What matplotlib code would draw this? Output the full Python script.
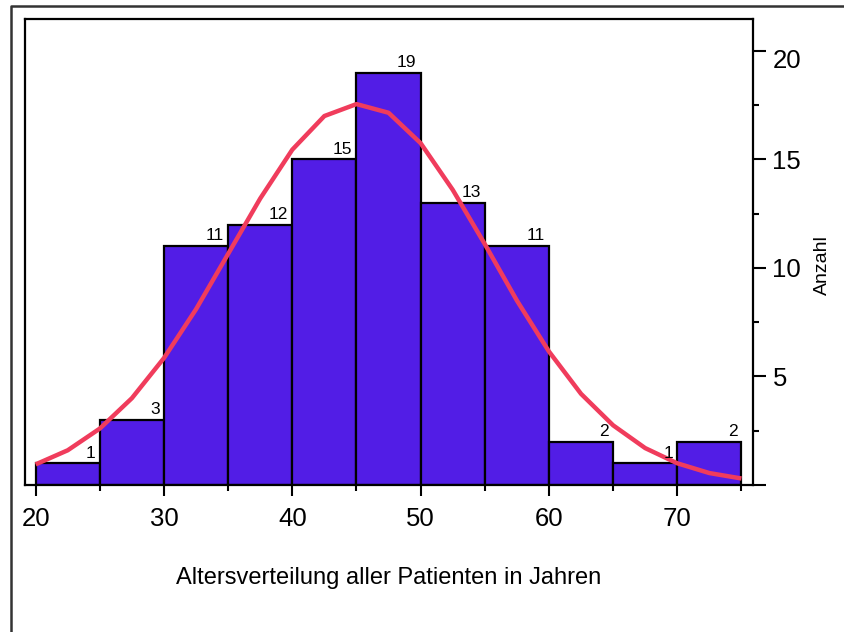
import matplotlib.pyplot as plt
from matplotlib.lines import Line2D
from matplotlib.ticker import MultipleLocator
import matplotlib.transforms as mtransforms

plt.rcParams['font.family'] = ['Liberation Sans', 'DejaVu Sans']

# Age classes (left edges, width 5 years) and patient counts
bin_left = [20, 25, 30, 35, 40, 45, 50, 55, 60, 65, 70]
counts = [1, 3, 11, 12, 15, 19, 13, 11, 2, 1, 2]
bin_width = 5

# Fitted normal curve, sampled every 2.5 years
curve_x = [20, 22.5, 25, 27.5, 30, 32.5, 35, 37.5, 40, 42.5, 45, 47.5,
           50, 52.5, 55, 57.5, 60, 62.5, 65, 67.5, 70, 72.5, 75]
curve_y = [0.95, 1.6, 2.6, 4.0, 5.85, 8.1, 10.65, 13.2, 15.45, 17.0, 17.55, 17.15,
           15.75, 13.6, 11.1, 8.5, 6.15, 4.2, 2.75, 1.7, 1.0, 0.55, 0.3]

x_ticks = [20, 30, 40, 50, 60, 70]
y_ticks = [5, 10, 15, 20]

fig = plt.figure(figsize=(8.44, 6.32), dpi=100)
ax = fig.add_axes([25 / 844, 1 - 485 / 632, 728 / 844, 466 / 632])

ax.bar(bin_left, counts, width=bin_width, align='edge', color='#521de6',
       edgecolor='black', linewidth=1.6, zorder=2)
ax.plot(curve_x, curve_y, color='#f03c5c', linewidth=3.2, zorder=3,
        solid_capstyle='butt')

for x0, n in zip(bin_left, counts):
    ax.annotate(str(n), (x0 + bin_width, n), xytext=(-3, 2),
                textcoords='offset points', ha='right', va='bottom', fontsize=12.5)

ax.set_xlim(19.17, 75.9)
ax.set_ylim(0, 21.47)

ax.set_xticks(x_ticks)
ax.xaxis.set_minor_locator(MultipleLocator(5))
ax.yaxis.tick_right()
ax.set_yticks([0] + y_ticks)
ax.set_yticklabels([''] + [str(v) for v in y_ticks])
ax.yaxis.set_minor_locator(MultipleLocator(2.5))

ax.tick_params(axis='x', which='major', direction='out', length=8, width=1.5,
               labelsize=18.5, pad=8)
ax.tick_params(axis='x', which='minor', direction='out', length=4, width=1.5)
ax.tick_params(axis='y', which='major', direction='out', length=9, width=1.5,
               labelsize=18.5, pad=5, left=False, right=True)
ax.tick_params(axis='y', which='minor', direction='out', length=4, width=1.5,
               left=False, right=True)

# keep the top label clear of the frame
top_label = ax.get_yticklabels()[-1]
top_label.set_transform(top_label.get_transform() +
                        mtransforms.ScaledTranslation(0, -8 / 100, fig.dpi_scale_trans))

for side in ax.spines.values():
    side.set_linewidth(1.6)

ax.set_xlabel('Altersverteilung aller Patienten in Jahren', fontsize=17)
ax.xaxis.set_label_coords(0.5, -0.1996)
ax.xaxis.label.set_va('center')

ax.yaxis.set_label_position('right')
ax.set_ylabel('Anzahl', fontsize=14, rotation=90)
ax.yaxis.set_label_coords(1.0948, 0.472)
ax.yaxis.label.set_va('center')

# outer frame lines (left and top)
fy = 1 - 5.5 / 632
fx = 11 / 844
fig.add_artist(Line2D([fx, fx, 1], [0, fy, fy], transform=fig.transFigure,
                      color='#333333', linewidth=1.8))

fig.savefig('out.png', dpi=100)
